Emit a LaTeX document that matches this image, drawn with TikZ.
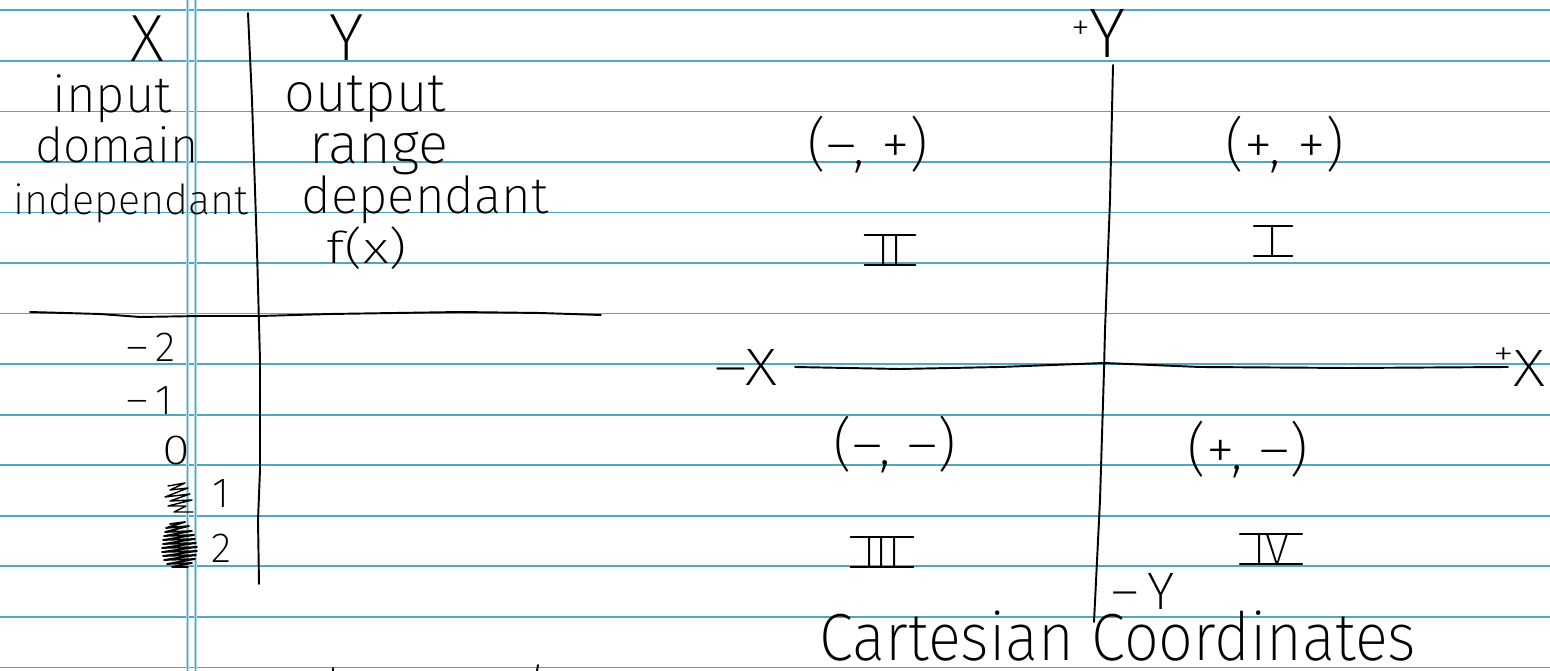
\documentclass[tikz,border=0pt]{standalone}
\usepackage{fontspec}
\usepackage{graphicx}
\IfFontExistsTF{Fira Sans ExtraLight}{\setmainfont{Fira Sans ExtraLight}}{%
  \IfFontExistsTF{Fira Sans Light}{\setmainfont{Fira Sans Light}}{\setmainfont{Fira Sans}}}
\definecolor{ruleblue}{RGB}{78,168,192}
\definecolor{rulelight}{RGB}{175,218,230}
\newcommand\hw[3][1]{\scalebox{#1}[1]{\fontsize{#2}{#2}\selectfont #3}}
\begin{document}
\begin{tikzpicture}[x=0.02cm,y=-0.02cm,line cap=round,line join=round,
  ruleline/.style={draw=ruleblue,line width=1pt},
  marginlight/.style={draw=rulelight,line width=2pt},
  margincore/.style={draw=ruleblue,line width=0.6pt},
  pen/.style={draw=black,line width=1.1pt},
  lbl/.style={inner sep=0pt,outer sep=0pt,text=black},
  numeral/.style={inner ysep=0pt,inner xsep=7.5pt,outer sep=0pt,text=black}]
\useasboundingbox (0,0) rectangle (1550,671);
\fill[white] (0,0) rectangle (1550,671);
% ruled paper
\foreach \k in {0,...,13} \draw[ruleline] (0,{10.3+50.55*\k}) -- (1550,{10.3+50.55*\k});
\draw[marginlight] (187.5,0) -- (187.5,671);
\draw[margincore] (187.5,0) -- (187.5,671);
\draw[marginlight] (195.3,0) -- (195.3,671);
\draw[margincore] (195.3,0) -- (195.3,671);

% ---------- table ----------
\coordinate (tvtop) at (248,13);
\coordinate (tvbot) at (259,584);
\draw[pen] (tvtop) -- (252,100) -- (257,250) -- (260,360) -- (260,470) -- (258,520) -- (tvbot);
\coordinate (thl) at (30,312);
\coordinate (thr) at (601,315);
\draw[pen] (thl) -- (100,314) -- (140,317) -- (200,316) -- (260,316) -- (330,314) -- (460,312) -- (540,313) -- (thr);

\node[lbl,anchor=base] (tx) at (147,62) {\hw{38}{X}};
\node[lbl,anchor=base] (ty) at (347,61) {\hw{38}{Y}};
\node[lbl,anchor=base] (tin) at (112,113) {\hw{29}{input}};
\node[lbl,anchor=base] (tout) at (365,112) {\hw{31}{output}};
\node[lbl,anchor=base] (tdom) at (117,163) {\hw{27.5}{domain}};
\node[lbl,anchor=base] (tran) at (379,164) {\hw{32}{range}};
\node[lbl,anchor=base] (tind) at (131,215) {\hw{23.5}{independant}};
\node[lbl,anchor=base] (tdep) at (425,214) {\hw{29}{dependant}};
\node[lbl,anchor=base] (tfx) at (367,264) {\hw[1.3]{25}{f(x)}};

\node[lbl,anchor=base] (nm2) at (151,362) {\hw{24}{–\,2}};
\node[lbl,anchor=base] (nm1) at (150,415) {\hw{24}{–\,1}};
\node[lbl,anchor=base] (n0) at (176,464) {\hw[1.2]{24}{0}};
\node[lbl,anchor=base] (n1) at (221,507) {\hw{24}{1}};
\node[lbl,anchor=base] (n2) at (221,562) {\hw{24}{2}};

% scribbles
\draw[pen,line width=0.8pt] (168,486) -- (185,483) -- (170,490) -- (188,488) -- (165,497) -- (190,494) -- (170,501) -- (192,500) -- (168,506) -- (186,506) -- (174,512) -- (193,512);
\draw[pen,line width=1pt] (170,524) -- (185,522) -- (166,528) -- (189,526) -- (165,532) -- (192,531) -- (164,536) -- (194,535) -- (163,540) -- (195,539) -- (163,544) -- (196,543) -- (162,548) -- (197,547) -- (162,552) -- (197,551) -- (163,556) -- (196,555) -- (164,560) -- (195,559) -- (167,564) -- (192,563) -- (172,567) -- (188,567);

% ---------- Cartesian plane ----------
\coordinate (ytop) at (1113,65);
\coordinate (ybot) at (1094,622);
\draw[pen] (ytop) -- (1110,200) -- (1105,330) -- (1104,370) -- (1100,500) -- (ybot);
\coordinate (xleft) at (795,367);
\coordinate (xright) at (1508,367);
\draw[pen] (xleft) -- (900,369) -- (1000,367) -- (1104,363) -- (1200,367) -- (1350,368) -- (xright);

\node[lbl,anchor=base west] (py) at (1071,58) {\hw{40}{\raisebox{10pt}{\fontsize{22}{22}\selectfont +}Y}};
\node[lbl,anchor=base west] (my) at (1111,609) {\hw{30}{–\,Y}};
\node[lbl,anchor=base] (mx) at (746,386) {\hw[1.2]{30}{–X}};
\node[lbl,anchor=base west] (px) at (1493,387) {\hw[1.2]{30}{\raisebox{12pt}{\fontsize{20}{20}\selectfont +}X}};

\node[lbl] (q2s) at (868,145) {\hw{33}{(–, +)}};
\node[lbl] (q1s) at (1285,145) {\hw{33}{(+, +)}};
\node[lbl] (q3s) at (895,445) {\hw{33}{(–, –)}};
\node[lbl] (q4s) at (1248,450) {\hw{33}{(+, –)}};

\node[numeral,anchor=base] (r2) at (890,265) {\hw{25}{II}};
\node[numeral,anchor=base] (r1) at (1273,256) {\hw{25}{I}};
\node[numeral,anchor=base] (r3) at (882,567) {\hw{25}{III}};
\node[numeral,anchor=base] (r4) at (1271,564) {\hw{25}{IV}};
\foreach \r in {r1,r2,r3,r4} {
  \draw[pen] (\r.north west) -- (\r.north east);
  \draw[pen] (\r.south west) -- (\r.south east);
}

\node[lbl,anchor=base] (title) at (1118,660) {\hw[0.92]{38}{Cartesian Coordinates}};

% pen marks at the lower edge
\coordinate (tk1a) at (333,668);
\coordinate (tk1b) at (333,671);
\coordinate (tk2a) at (538,665);
\coordinate (tk2b) at (537,671);
\draw[pen] (tk1a) -- (tk1b);
\draw[pen] (tk2a) -- (tk2b);
\end{tikzpicture}
\end{document}
